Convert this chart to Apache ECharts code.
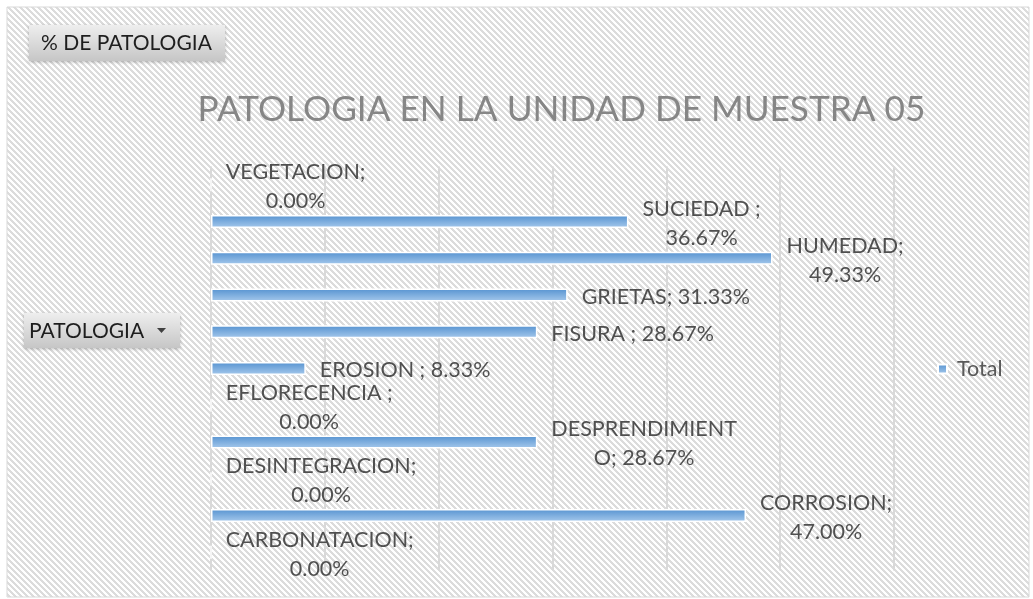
<!DOCTYPE html>
<html>
<head>
<meta charset="utf-8">
<script src="https://cdn.jsdelivr.net/npm/echarts@6/dist/echarts.min.js"></script>
<style>
html,body{margin:0;padding:0;background:#fff;}
#chart{width:1033px;height:599px;}
</style>
</head>
<body>
<div id="chart"></div>
<script>
const categories = ['VEGETACION', 'SUCIEDAD', 'HUMEDAD', 'GRIETAS', 'FISURA', 'EROSION', 'EFLORECENCIA', 'DESPRENDIMIENTO', 'DESINTEGRACION', 'CORROSION', 'CARBONATACION'];
const values = [0.00, 36.67, 49.33, 31.33, 28.67, 8.33, 0.00, 28.67, 0.00, 47.00, 0.00];
const dataLabels = ['VEGETACION;\n0.00%', 'SUCIEDAD ;\n36.67%', 'HUMEDAD;\n49.33%', 'GRIETAS; 31.33%', 'FISURA ; 28.67%', 'EROSION ; 8.33%', 'EFLORECENCIA ;\n0.00%', 'DESPRENDIMIENT\nO; 28.67%', 'DESINTEGRACION;\n0.00%', 'CORROSION;\n47.00%', 'CARBONATACION;\n0.00%'];
const seriesName = 'Total';
const chartTitle = 'PATOLOGIA EN LA UNIDAD DE MUESTRA 05';
const filterButton = '% DE PATOLOGIA';
const axisButton = 'PATOLOGIA';
const xMin = 0, xMax = 60, xInterval = 10;

const FONT = 'Lato, "Open Sans", sans-serif';
const LABEL_SIZE = 21.5;

// hatch pattern
const pat = document.createElement('canvas');
pat.width = 6; pat.height = 6;
const pctx = pat.getContext('2d');
pctx.fillStyle = '#ffffff'; pctx.fillRect(0,0,6,6);
pctx.fillStyle = '#dcdcdc';
for (let y = 0; y < 6; y++) for (let x = 0; x < 6; x++) {
  if (((x - y) % 6 + 6) % 6 < 3) pctx.fillRect(x, y, 1, 1);
}

// measure label widths for centering lines in block
const mc = document.createElement('canvas').getContext('2d');
mc.font = LABEL_SIZE + 'px ' + FONT;
function blockWidth(t){ return Math.max.apply(null, t.split('\n').map(s => mc.measureText(s).width)); }

const barColor = new echarts.graphic.LinearGradient(0, 0, 0, 1, [
  {offset: 0, color: '#5592d0'},
  {offset: 1, color: '#a6c9ec'}
]);

const chart = echarts.init(document.getElementById('chart'), null, {renderer: 'canvas'});
chart.setOption({
  animation: false,
  backgroundColor: '#ffffff',
  grid: {left: 211, right: 139, top: 166.5, bottom: 28.5, containLabel: false},
  xAxis: {
    type: 'value', min: xMin, max: xMax, interval: xInterval,
    axisLabel: {show: false}, axisLine: {show: false}, axisTick: {show: false},
    splitLine: {show: true, lineStyle: {color: '#d9d9d9', width: 2}}
  },
  yAxis: {
    type: 'category', data: categories, inverse: true,
    axisLabel: {show: false}, axisLine: {show: false}, axisTick: {show: false}
  },
  legend: {
    data: [seriesName], left: 937, top: 358, itemWidth: 9, itemHeight: 9, itemGap: 10,
    icon: 'rect', padding: 0,
    textStyle: {fontFamily: FONT, fontSize: LABEL_SIZE, color: '#595959', padding: [0,0,0,5]}
  },
  graphic: [
    {type: 'rect', z: -100, shape: {x: 7, y: 7, width: 1022, height: 590},
     style: {fill: {image: pat, repeat: 'repeat'}, stroke: '#d9d9d9', lineWidth: 1}},
    {type: 'text', z: 10, x: 561.5, y: 110,
     style: {text: chartTitle, font: '400 35.2px ' + FONT, fill: '#868686', textAlign: 'center', textVerticalAlign: 'middle'}},
    {type: 'rect', z: 10, shape: {x: 29, y: 25, width: 196, height: 36},
     style: {fill: new echarts.graphic.LinearGradient(0,0,0,1,[{offset:0,color:'#eeeeee'},{offset:1,color:'#c6c6c6'}]),
             shadowBlur: 3, shadowColor: 'rgba(0,0,0,0.25)', shadowOffsetY: 1}},
    {type: 'text', z: 11, x: 41, y: 43.5,
     style: {text: filterButton, font: '21px ' + FONT, fill: '#1e1e1e', textVerticalAlign: 'middle'}},
    {type: 'rect', z: 10, shape: {x: 24, y: 313, width: 156, height: 35},
     style: {fill: new echarts.graphic.LinearGradient(0,0,0,1,[{offset:0,color:'#eeeeee'},{offset:1,color:'#c6c6c6'}]),
             shadowBlur: 3, shadowColor: 'rgba(0,0,0,0.25)', shadowOffsetY: 1}},
    {type: 'text', z: 11, x: 29, y: 331,
     style: {text: axisButton, font: '21px ' + FONT, fill: '#1e1e1e', textVerticalAlign: 'middle'}},
    {type: 'polygon', z: 11, shape: {points: [[157,328],[166,328],[161.5,333]]}, style: {fill: '#404040'}}
  ],
  series: [{
    name: seriesName,
    type: 'bar',
    barWidth: 13,
    itemStyle: {color: barColor, borderColor: '#ffffff', borderWidth: 1.5},
    label: {
      show: true, position: 'right', distance: 14, align: 'center',
      fontFamily: FONT, fontSize: LABEL_SIZE, color: '#505050', lineHeight: 29,
      formatter: p => dataLabels[p.dataIndex]
    },
    data: values.map((v, i) => ({value: v, label: {offset: [blockWidth(dataLabels[i]) / 2, 2]}}))
  }]
});
</script>
</body>
</html>
